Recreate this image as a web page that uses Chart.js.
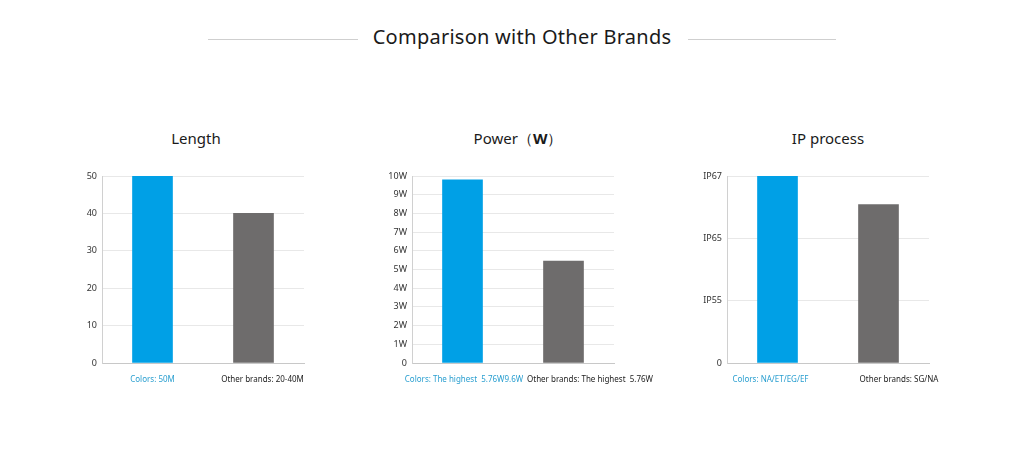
<!DOCTYPE html>
<html>
<head>
<meta charset="utf-8">
<script src="https://cdn.jsdelivr.net/npm/chart.js@4/dist/chart.umd.min.js"></script>
<style>
  html, body { margin: 0; padding: 0; background: #fff; }
  #page { position: relative; width: 1024px; height: 469px; overflow: hidden; font-family: "Noto Sans", sans-serif; }
  #heading { position: absolute; top: 23px; left: 10px; width: 1024px; text-align: center; font-size: 20px; letter-spacing: 0.25px; color: #1a1a1a; }
  .rule { position: absolute; top: 39px; height: 1px; background: #cfcfcf; }
  .box { position: absolute; top: 110px; height: 283px; }
  .ttl { position: absolute; top: 128px; width: 200px; text-align: center; font-size: 15px; font-weight: 400; color: #1a1a1a; line-height: 20px; }
</style>
</head>
<body>
<div id="page">
  <div class="rule" style="left:208px;width:150px"></div>
  <div id="heading">Comparison with Other Brands</div>
  <div class="rule" style="left:688px;width:148px"></div>
  <div class="ttl" style="left:96px">Length</div>
  <div class="ttl" style="left:418px">Power（<b>W</b>）</div>
  <div class="ttl" style="left:728px">IP process</div>
  <div class="box" style="left:52px;width:300px"><canvas id="c1"></canvas></div>
  <div class="box" style="left:362px;width:300px"><canvas id="c2"></canvas></div>
  <div class="box" style="left:677px;width:300px"><canvas id="c3"></canvas></div>
</div>
<script>
var lengthLabels = ["Colors: 50M", "Other brands: 20-40M"];
var lengthValues = [50, 40];
var lengthTicks = ["0", "10", "20", "30", "40", "50"];

var powerLabels = ["Colors: The highest  5.76W9.6W", "Other brands: The highest  5.76W"];
var powerValues = [9.8, 5.45];
var powerTicks = ["0", "1W", "2W", "3W", "4W", "5W", "6W", "7W", "8W", "9W", "10W"];

var ipLabels = ["Colors: NA/ET/EG/EF", "Other brands: SG/NA"];
var ipValues = [3, 2.54];
var ipTicks = ["0", "IP55", "IP65", "IP67"];

var BLUE = "#00a0e6";
var GRAY = "#6e6c6c";
var LABEL_COLORS = ["#2a9fd0", "#222"];

// draws the category labels under the axis, with a small shift for each
var xLabelPlugin = {
  id: "xLabels",
  afterDraw: function(chart, args, opts) {
    var ctx = chart.ctx;
    var xs = chart.scales.x;
    var labels = chart.data.labels;
    ctx.save();
    ctx.font = "8px 'Noto Sans', sans-serif";
    ctx.textAlign = "center";
    ctx.textBaseline = "middle";
    for (var i = 0; i < labels.length; i++) {
      ctx.fillStyle = LABEL_COLORS[i];
      ctx.fillText(labels[i], xs.getPixelForValue(i) + (opts.shift ? opts.shift[i] : 0), chart.chartArea.bottom + 17);
    }
    ctx.restore();
  }
};

function makeChart(id, labels, values, tickLabels, step, shift) {
  var ctx = document.getElementById(id).getContext("2d");
  return new Chart(ctx, {
    type: "bar",
    data: {
      labels: labels,
      datasets: [{
        data: values,
        backgroundColor: [BLUE, GRAY],
        barThickness: 40
      }]
    },
    plugins: [xLabelPlugin],
    options: {
      responsive: true,
      maintainAspectRatio: false,
      animation: false,
      layout: { padding: { left: 20, right: 48, top: 66, bottom: 0 } },
      plugins: {
        legend: { display: false },
        tooltip: { enabled: false },
        xLabels: { shift: shift }
      },
      scales: {
        x: {
          grid: { display: false, drawTicks: false },
          border: { color: "#c8c8c8" },
          ticks: { display: false },
          afterFit: function(s) { s.height = 30; }
        },
        y: {
          min: 0,
          max: (tickLabels.length - 1) * step,
          grid: { color: "#e8e8e8", drawTicks: false },
          border: { color: "#d0d0d0" },
          ticks: {
            stepSize: step,
            padding: 5,
            color: "#333",
            font: { family: "'Noto Sans', sans-serif", size: 9 },
            callback: function(v) { return tickLabels[Math.round(v / step)]; }
          },
          afterFit: function(s) { s.width = 30; }
        }
      }
    }
  });
}

makeChart("c1", lengthLabels, lengthValues, lengthTicks, 10, [0, 9]);
makeChart("c2", powerLabels, powerValues, powerTicks, 1, [1.5, 26.5]);
makeChart("c3", ipLabels, ipValues, ipTicks, 1, [-7, 20.5]);
</script>
</body>
</html>
